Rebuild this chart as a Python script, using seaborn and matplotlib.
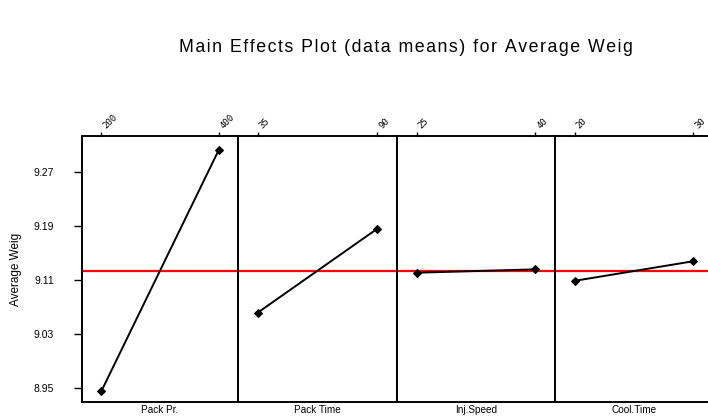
import matplotlib
matplotlib.use('Agg')
import matplotlib.pyplot as plt
import seaborn as sns
import pandas as pd

# factor names and levels
factors = ['Pack Pr.', 'Pack Time', 'Inj.Speed', 'Cool.Time']
levels = [[200, 400], [35, 90], [25, 40], [20, 30]]
level_labels = [['200', '400'], ['35', '90'], ['25', '40'], ['20', '30']]
means = [[8.946, 9.302], [9.062, 9.186], [9.121, 9.126], [9.109, 9.138]]
grand_mean = 9.124
y_ticks = [8.95, 9.03, 9.11, 9.19, 9.27]
title = 'Main Effects Plot (data means) for Average Weig'

sns.set_style('white')
plt.rcParams['font.family'] = ['Liberation Sans', 'DejaVu Sans']
plt.rcParams['text.color'] = 'black'
plt.rcParams['axes.labelcolor'] = 'black'
plt.rcParams['xtick.color'] = 'black'
plt.rcParams['ytick.color'] = 'black'

W, H = 708, 418
fig = plt.figure(figsize=(W / 100, H / 100), dpi=100)

# panel edges in pixels
edges = [82, 238, 397, 555, 713]
top, bottom = 136, 402

for i, name in enumerate(factors):
    x0, x1 = edges[i], edges[i + 1]
    ax = fig.add_axes([x0 / W, 1 - bottom / H, (x1 - x0) / W, (bottom - top) / H])
    df = pd.DataFrame({'level': levels[i], 'mean': means[i]})
    sns.lineplot(data=df, x='level', y='mean', ax=ax, color='black',
                 marker='D', markersize=4.5, linewidth=1.4,
                 markeredgecolor='black')
    ax.axhline(grand_mean, color='red', linewidth=1.6, zorder=0)

    lo, hi = levels[i]
    pad = (hi - lo) * 0.165
    ax.set_xlim(lo - pad, hi + pad)
    ax.set_ylim(8.93, 9.323)

    ax.xaxis.tick_top()
    ax.set_xticks(levels[i])
    ax.set_xticklabels(level_labels[i], rotation=45, ha='left', va='bottom',
                       fontsize=6.5, family=['DejaVu Sans Mono', 'DejaVu Sans'])
    ax.tick_params(axis='x', which='both', top=True, length=3, width=1,
                   pad=1, color='black')
    ax.set_xlabel('')
    ax.text(0.5, -0.012, name, transform=ax.transAxes,
            ha='center', va='top', fontsize=7.2)

    if i == 0:
        ax.set_yticks(y_ticks)
        ax.set_yticklabels([f'{t:.2f}' for t in y_ticks], fontsize=7.5)
        ax.tick_params(axis='y', left=True, length=6, width=1, pad=14,
                       color='black')
        ax.set_ylabel('Average Weig', fontsize=8.5)
        ax.yaxis.set_label_coords((22 - 82) / 156, 0.5)
    else:
        ax.set_yticks([])
        ax.set_ylabel('')

    for sp in ax.spines.values():
        sp.set_visible(True)
        sp.set_color('black')
        sp.set_linewidth(1.4)

# title is drawn with a little letter spacing, like the original
fig.text(406 / W, 1 - 47 / H, '\u200a'.join(title),
         ha='center', va='center', fontsize=12.8)

plt.savefig('out.png', dpi=100)
plt.close()
